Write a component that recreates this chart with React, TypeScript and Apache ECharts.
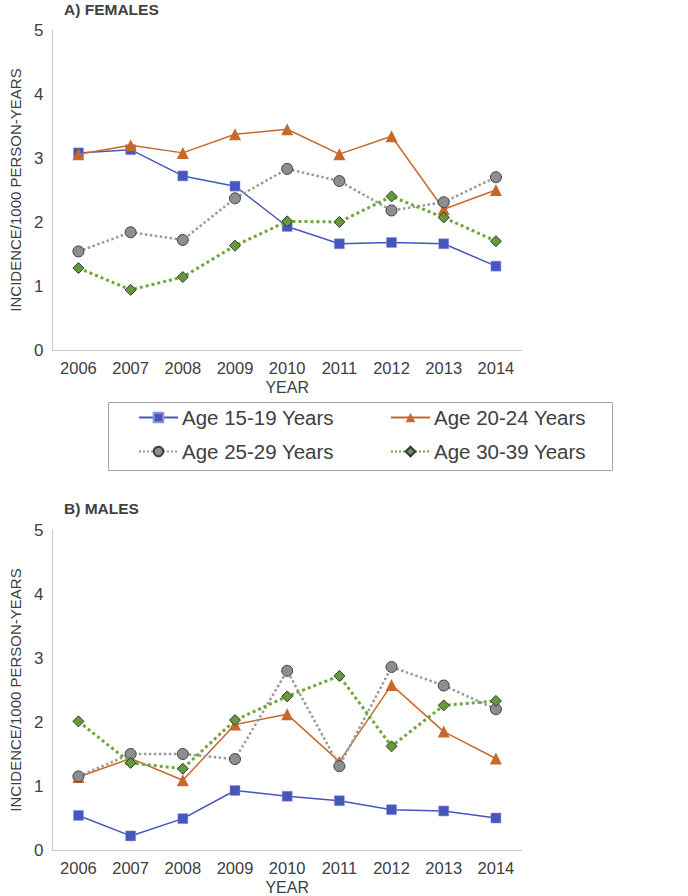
import React, { useEffect, useRef } from "react";
import * as echarts from "echarts";

const years = ["2006", "2007", "2008", "2009", "2010", "2011", "2012", "2013", "2014"];
const seriesNames = ["Age 15-19 Years", "Age 20-24 Years", "Age 25-29 Years", "Age 30-39 Years"];

const female15_19 = [3.08, 3.13, 2.72, 2.56, 1.93, 1.66, 1.68, 1.66, 1.31];
const female20_24 = [3.06, 3.2, 3.08, 3.37, 3.45, 3.06, 3.34, 2.2, 2.5];
const female25_29 = [1.54, 1.84, 1.72, 2.37, 2.83, 2.64, 2.18, 2.31, 2.7];
const female30_39 = [1.28, 0.94, 1.14, 1.63, 2.01, 2.0, 2.4, 2.07, 1.7];

const male15_19 = [0.54, 0.22, 0.49, 0.93, 0.84, 0.77, 0.63, 0.61, 0.5];
const male20_24 = [1.14, 1.43, 1.09, 1.96, 2.12, 1.38, 2.58, 1.85, 1.43];
const male25_29 = [1.15, 1.5, 1.5, 1.42, 2.8, 1.31, 2.86, 2.57, 2.2];
const male30_39 = [2.01, 1.36, 1.27, 2.03, 2.4, 2.72, 1.62, 2.26, 2.33];

const FONT = "'Liberation Sans', Arial, sans-serif";
const TXT = "#404040";

const styles = [
  {
    symbol: "rect",
    symbolSize: 10,
    lineStyle: { color: "#4656BC", width: 1.5, type: "solid" as const },
    itemStyle: { color: "#4656BC", borderColor: "#8a95d8", borderWidth: 0.5 },
  },
  {
    symbol: "triangle",
    symbolSize: 12,
    lineStyle: { color: "#C8692C", width: 1.5, type: "solid" as const },
    itemStyle: { color: "#C8692C", borderColor: "#C8692C", borderWidth: 0 },
  },
  {
    symbol: "circle",
    symbolSize: 11,
    lineStyle: { color: "#9a9a9a", width: 2.5, type: "dotted" as const },
    itemStyle: { color: "#8e8e8e", borderColor: "#3a3f52", borderWidth: 1 },
  },
  {
    symbol: "diamond",
    symbolSize: 11,
    lineStyle: { color: "#6FA83A", width: 3, type: "dotted" as const },
    itemStyle: { color: "#679A36", borderColor: "#2f3848", borderWidth: 1 },
  },
];

export default function App() {
  const ref = useRef<HTMLDivElement>(null);
  useEffect(() => {
    document.body.style.margin = "0";
    const chart = echarts.init(ref.current!, null, { renderer: "svg" });
    const femaleData = [female15_19, female20_24, female25_29, female30_39];
    const maleData = [male15_19, male20_24, male25_29, male30_39];

    const xAxisCommon = {
      type: "category" as const,
      data: years,
      boundaryGap: true,
      axisLine: { lineStyle: { color: "#c8c8c8", width: 1 } },
      axisTick: { show: false },
      axisLabel: { color: TXT, fontFamily: FONT, fontSize: 16.5, margin: 9 },
      name: "YEAR",
      nameLocation: "middle" as const,
      nameGap: 29,
      nameTextStyle: { color: TXT, fontFamily: FONT, fontSize: 16 },
    };
    const yAxisCommon = {
      type: "value" as const,
      min: 0,
      max: 5,
      interval: 1,
      axisLine: { show: true, lineStyle: { color: "#c8c8c8", width: 1 } },
      axisTick: { show: false },
      splitLine: { show: false },
      axisLabel: { color: TXT, fontFamily: FONT, fontSize: 17, margin: 9 },
      name: "INCIDENCE/1000 PERSON-YEARS",
      nameLocation: "middle" as const,
      nameGap: 28,
      nameTextStyle: { color: TXT, fontFamily: FONT, fontSize: 15 },
    };

    const series: any[] = [];
    [femaleData, maleData].forEach((group, gi) => {
      group.forEach((d, i) => {
        series.push({
          type: "line",
          name: seriesNames[i],
          xAxisIndex: gi,
          yAxisIndex: gi,
          data: d,
          symbol: styles[i].symbol,
          symbolSize: styles[i].symbolSize,
          lineStyle: styles[i].lineStyle,
          itemStyle: styles[i].itemStyle,
          z: 2 + i,
        });
      });
    });

    const legendPos = [
      { left: 138, top: 407 },
      { left: 390, top: 407 },
      { left: 138, top: 441 },
      { left: 390, top: 441 },
    ];

    chart.setOption({
      animation: false,
      title: [
        {
          text: "A) FEMALES",
          left: 59,
          top: -4,
          textStyle: { fontFamily: FONT, fontSize: 15.5, fontWeight: "bold", color: TXT },
        },
        {
          text: "B) MALES",
          left: 59,
          top: 495,
          textStyle: { fontFamily: FONT, fontSize: 15.5, fontWeight: "bold", color: TXT },
        },
      ],
      grid: [
        { left: 35, top: 30, width: 487, height: 320 },
        { left: 35, top: 530, width: 487, height: 320 },
      ],
      xAxis: [
        { ...xAxisCommon, gridIndex: 0 },
        { ...xAxisCommon, gridIndex: 1, nameGap: 29 },
      ],
      yAxis: [
        { ...yAxisCommon, gridIndex: 0 },
        { ...yAxisCommon, gridIndex: 1 },
      ],
      legend: seriesNames.map((n, i) => ({
        data: [n],
        left: legendPos[i].left,
        top: legendPos[i].top,
        itemWidth: 39,
        itemHeight: 12,
        itemGap: 4,
        padding: 0,
        selectedMode: false,
        textStyle: { color: TXT, fontFamily: FONT, fontSize: 20.5, padding: [0, 0, 0, -1] },
      })),
      graphic: [
        {
          type: "rect",
          shape: { x: 108.5, y: 402.5, width: 504, height: 68 },
          style: { fill: "none", stroke: "#a6a6a6", lineWidth: 1 },
        },
      ],
      series,
    });
    return () => chart.dispose();
  }, []);
  return <div ref={ref} style={{ width: 688, height: 896 }} />;
}
